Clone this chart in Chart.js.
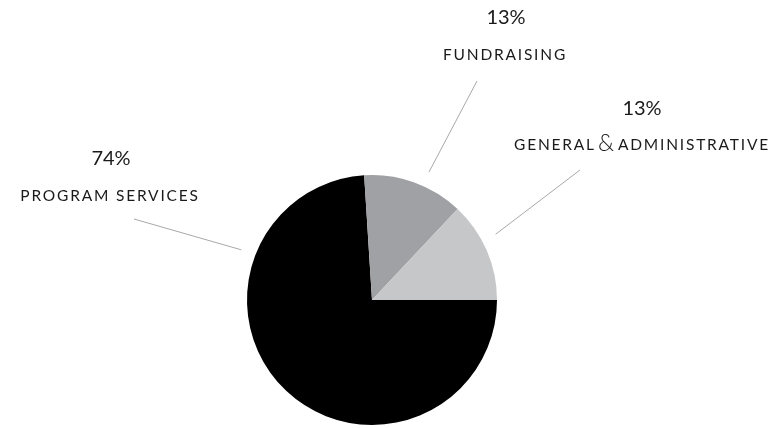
<!DOCTYPE html>
<html>
<head>
<meta charset="utf-8">
<script src="https://cdn.jsdelivr.net/npm/chart.js@4.4.1/dist/chart.umd.min.js"></script>
<style>
  html, body { margin: 0; padding: 0; background: #fff; }
  #wrap { width: 774px; height: 428px; position: relative; }
</style>
</head>
<body>
<div id="wrap"><canvas id="grafica"></canvas></div>
<script>
// datos del grafico
const categorias = ['PROGRAM SERVICES', 'FUNDRAISING', 'GENERAL & ADMINISTRATIVE'];
const porcentajes = [74, 13, 13];
const colores = ['#000000', '#a0a1a4', '#c6c7c8'];

// posicion de etiquetas (relativa al centro del pastel) y angulo de la linea guia
const etiquetas = [
  { dx: -262, pctDx: -261, pctDy: -141, labDy: -104, lx: -238, ly: -81, ang: -159 },
  { dx: 133, pctDx: 134, pctDy: -282, labDy: -245, lx: 105, ly: -219, ang: -66 },
  { dx: 270, pctDx: 270, pctDy: -191, labDy: -155, lx: 208, ly: -130, ang: -28 }
];

const etiquetasPlugin = {
  id: 'etiquetas',
  afterDraw(chart) {
    const ctx = chart.ctx;
    const arcs = chart.getDatasetMeta(0).data;
    ctx.save();
    arcs.forEach((arc, i) => {
      const cx = arc.x, cy = arc.y, r = arc.outerRadius;
      const e = etiquetas[i];
      const a = e.ang * Math.PI / 180;

      // linea guia
      ctx.strokeStyle = '#a8a8a8';
      ctx.lineWidth = 1;
      ctx.beginPath();
      ctx.moveTo(cx + e.lx, cy + e.ly);
      ctx.lineTo(cx + Math.cos(a) * (r + 15), cy + Math.sin(a) * (r + 15));
      ctx.stroke();

      // porcentaje
      ctx.fillStyle = '#1a1a1a';
      ctx.textAlign = 'center';
      ctx.textBaseline = 'middle';
      ctx.letterSpacing = '0px';
      ctx.font = '400 20px Lato';
      ctx.fillText(porcentajes[i] + '%', cx + e.pctDx, cy + e.pctDy);

      // nombre de la categoria
      ctx.font = '400 15.5px Lato';
      ctx.letterSpacing = '1.8px';
      const partes = categorias[i].split('&');
      if (partes.length === 1) {
        ctx.fillText(categorias[i], cx + e.dx, cy + e.labDy);
      } else {
        // el "&" va en una fuente mas grande
        const w1 = ctx.measureText(partes[0].trim()).width;
        const w2 = ctx.measureText(partes[1].trim()).width;
        ctx.font = '300 23px Lato';
        ctx.letterSpacing = '0px';
        const wa = ctx.measureText('&').width + 6;
        const total = w1 + wa + w2;
        const x = cx + e.dx - total / 2;
        ctx.textAlign = 'center';
        ctx.fillText('&', x + w1 + wa / 2 - 1, cy + e.labDy - 1);
        ctx.textAlign = 'left';
        ctx.font = '400 15.5px Lato';
        ctx.letterSpacing = '1.8px';
        ctx.fillText(partes[0].trim(), x, cy + e.labDy);
        ctx.fillText(partes[1].trim(), x + w1 + wa, cy + e.labDy);
      }
    });
    ctx.restore();
  }
};

const ctx = document.getElementById('grafica').getContext('2d');
const chartInstance = new Chart(ctx, {
  type: 'pie',
  data: {
    labels: categorias,
    datasets: [{
      data: porcentajes,
      backgroundColor: colores,
      borderWidth: 0,
      hoverOffset: 0
    }]
  },
  options: {
    responsive: true,
    maintainAspectRatio: false,
    animation: false,
    events: [],
    rotation: 90,
    layout: { padding: { left: 247, right: 277, top: 175, bottom: 3 } },
    plugins: {
      legend: { display: false },
      tooltip: { enabled: false }
    }
  },
  plugins: [etiquetasPlugin]
});
</script>
</body>
</html>
